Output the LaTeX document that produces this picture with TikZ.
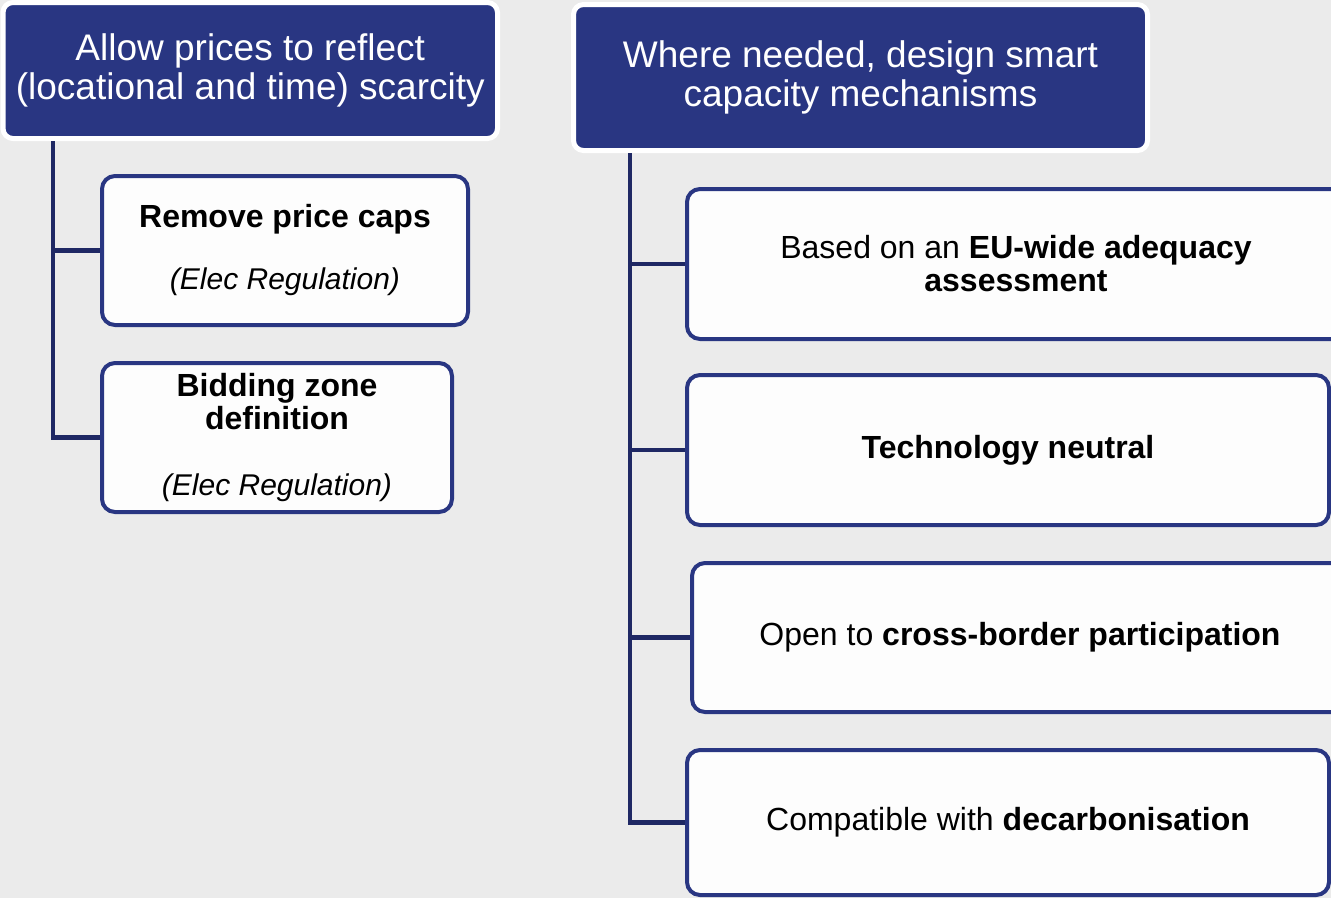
\documentclass[tikz,border=0pt]{standalone}
\usepackage{fontspec}
\setmainfont{Liberation Sans}
\usepackage{tikz}
\definecolor{navy}{RGB}{41,54,130}
\definecolor{trunkblue}{RGB}{31,40,100}
\definecolor{paper}{RGB}{235,235,235}
\definecolor{boxwhite}{RGB}{253,253,253}
\tikzstyle{head} = [rectangle, rounded corners=10pt, fill=navy, draw=white, line width=5pt, text=white, align=center, inner sep=0pt, font=\fontsize{37}{39}\selectfont]
\tikzstyle{leaf} = [rectangle, rounded corners=13pt, fill=boxwhite, draw=navy, line width=4pt, align=center, inner sep=0pt, font=\fontsize{32}{33}\selectfont]
\tikzstyle{trunk} = [draw=trunkblue, line width=4.5pt]
\newcommand{\reg}{{\fontsize{30}{33}\selectfont\itshape (Elec Regulation)}}

\begin{document}
\begin{tikzpicture}[x=1pt, y=-1pt]
	\useasboundingbox (0,0) rectangle (1331,898);
	\clip (0,0) rectangle (1331,898);
	\fill[paper] (0,0) rectangle (1331,898);
% Nodes
	\node [head, minimum width=494.5, minimum height=136] (allow) at (250.25,70.5) {Allow prices to reflect\\(locational and time) scarcity};
	\node [head, minimum width=574, minimum height=146] (smart) at (860.5,77.5) {Where needed, design smart\\capacity mechanisms};
	\node [leaf, minimum width=366, minimum height=149] (caps) at (285,250.5) {\textbf{Remove price caps}\\[29pt]\reg};
	\node [leaf, minimum width=350, minimum height=149] (zone) at (277,437.5) {\textbf{Bidding zone}\\\textbf{definition}\\[33pt]\reg};
	\node [leaf, minimum width=658, minimum height=150] (adequacy) at (1016,264) {Based on an \textbf{EU-wide adequacy}\\\textbf{assessment}};
	\node [leaf, minimum width=642, minimum height=150] (neutral) at (1008,450) {\textbf{Technology neutral}};
	\node [leaf, minimum width=656, minimum height=149] (crossborder) at (1020,637.5) {Open to \textbf{cross-border participation}};
	\node [leaf, minimum width=642, minimum height=145] (decarb) at (1008,822.5) {Compatible with \textbf{decarbonisation}};
	\coordinate (ltop) at (53,141);
	\coordinate (rtop) at (630,153);
% Connections
	\draw [trunk] (ltop) |- (caps.west);
	\draw [trunk] (ltop) |- (zone.west);
	\foreach \b in {adequacy,neutral,crossborder,decarb}
		\draw [trunk] (rtop) |- (\b.west);
\end{tikzpicture}
\end{document}
